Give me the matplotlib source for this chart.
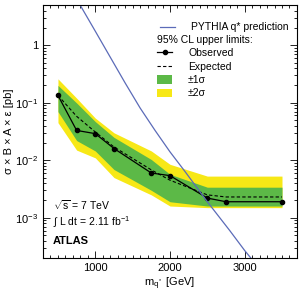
import numpy as np
import matplotlib
matplotlib.use("Agg")
import matplotlib.pyplot as plt
from matplotlib.lines import Line2D
from matplotlib.patches import Patch
from matplotlib.ticker import FixedLocator, MultipleLocator, FuncFormatter, LogLocator, NullFormatter

plt.rcParams["font.family"] = ["Liberation Sans", "DejaVu Sans"]
plt.rcParams["mathtext.fontset"] = "custom"
plt.rcParams["mathtext.rm"] = "Liberation Sans"
plt.rcParams["mathtext.it"] = "Liberation Sans:italic"
plt.rcParams["mathtext.bf"] = "Liberation Sans:bold"

# limits vs q* mass
mass = [500, 750, 1000, 1250, 1750, 2000, 2500, 2750, 3500]
observed = [0.134, 0.033, 0.029, 0.016, 0.0060, 0.0054, 0.0022, 0.0019, 0.0019]
expected = [0.134, 0.058, 0.031, 0.017, 0.0068, 0.0045, 0.0025, 0.0023, 0.0023]
sig1_lo = [0.07, 0.022, 0.0145, 0.0069, 0.003, 0.0019, 0.0016, 0.0016, 0.0016]
sig1_hi = [0.2, 0.099, 0.047, 0.025, 0.0103, 0.0057, 0.0034, 0.0034, 0.0034]
sig2_lo = [0.045, 0.015, 0.011, 0.005, 0.0025, 0.0016, 0.0015, 0.0015, 0.0015]
sig2_hi = [0.26, 0.12, 0.054, 0.030, 0.0145, 0.0085, 0.0053, 0.0053, 0.0053]

# PYTHIA q* prediction
mass_pythia = [700, 800, 1000, 1200, 1400, 1600, 1800, 2000, 2200, 2500, 2800, 3000, 3200]
xsec_pythia = [8.5, 4.9, 1.75, 0.62, 0.22, 0.081, 0.033, 0.014, 0.0064, 0.0019, 6.0e-4, 2.7e-4, 1.3e-4]

c_green = "#5cb947"
c_yellow = "#f7e816"
c_blue = "#5b6bb8"


def main():
    fig = plt.figure(figsize=(3.03, 2.93), dpi=100)
    ax = fig.add_axes([0.142, 0.1195, 0.838, 0.8635])

    ax.fill_between(mass, sig2_lo, sig2_hi, color=c_yellow, lw=0)
    ax.fill_between(mass, sig1_lo, sig1_hi, color=c_green, lw=0)
    ax.plot(mass, expected, "k--", lw=0.8, dashes=(3, 2))
    ax.plot(mass, observed, "k-", lw=0.9, marker="o", ms=3)
    ax.plot(mass_pythia, xsec_pythia, color=c_blue, lw=0.9)

    ax.set_yscale("log")
    ax.set_xlim(300, 3700)
    ax.set_ylim(2e-4, 5)

    ax.xaxis.set_major_locator(FixedLocator([1000, 2000, 3000]))
    ax.xaxis.set_minor_locator(MultipleLocator(100))
    ax.yaxis.set_major_locator(LogLocator(base=10, numticks=10))
    ax.yaxis.set_minor_locator(LogLocator(base=10, subs=np.arange(2, 10), numticks=20))
    ax.yaxis.set_minor_formatter(NullFormatter())

    def yfmt(v, pos):
        e = int(round(np.log10(v)))
        if e == 0:
            return "1"
        return r"10$^{%d}$" % e
    ax.yaxis.set_major_formatter(FuncFormatter(yfmt))

    ax.tick_params(which="both", direction="in", top=True, right=True, labelsize=8, width=0.6)
    ax.tick_params(which="major", length=5)
    ax.tick_params(which="minor", length=2.5)
    for s in ax.spines.values():
        s.set_linewidth(0.8)

    ax.set_xlabel(r"m$_{\mathrm{q^*}}$ [GeV]", fontsize=8, labelpad=2)
    ax.set_ylabel(r"σ × B × A × ε [pb]", fontsize=8, labelpad=0.5)

    ax.text(0.04, 0.19, r"$\sqrt{\mathrm{s}}$ = 7 TeV", transform=ax.transAxes, fontsize=7.5)
    ax.text(0.04, 0.125, r"$\int$ L dt = 2.11 fb$^{-1}$", transform=ax.transAxes, fontsize=7.5)
    ax.text(0.04, 0.055, "ATLAS", transform=ax.transAxes, fontsize=8, fontweight="bold")

    h_py = [Line2D([], [], color=c_blue, lw=0.9)]
    leg1 = ax.legend(h_py, ["PYTHIA q* prediction"], loc="upper left",
                     bbox_to_anchor=(0.462, 0.932), frameon=False, fontsize=7.5,
                     handlelength=1.45, handletextpad=1.5, borderpad=0, borderaxespad=0)
    ax.add_artist(leg1)

    h_lim = [Line2D([], [], color="k", lw=0.9, marker="o", ms=3),
             Line2D([], [], color="k", lw=0.8, ls="--", dashes=(3, 2)),
             Patch(color=c_green, lw=0),
             Patch(color=c_yellow, lw=0)]
    ax.legend(h_lim, ["Observed", "Expected", "±1σ", "±2σ"], loc="upper left",
              bbox_to_anchor=(0.45, 0.881), frameon=False, fontsize=7.5,
              title="95% CL upper limits:", title_fontsize=7.5, alignment="left",
              handlelength=1.45, handletextpad=1.5, borderpad=0, borderaxespad=0,
              labelspacing=0.32, handleheight=0.9)

    fig.savefig("out.png", dpi=100)


if __name__ == "__main__":
    main()
